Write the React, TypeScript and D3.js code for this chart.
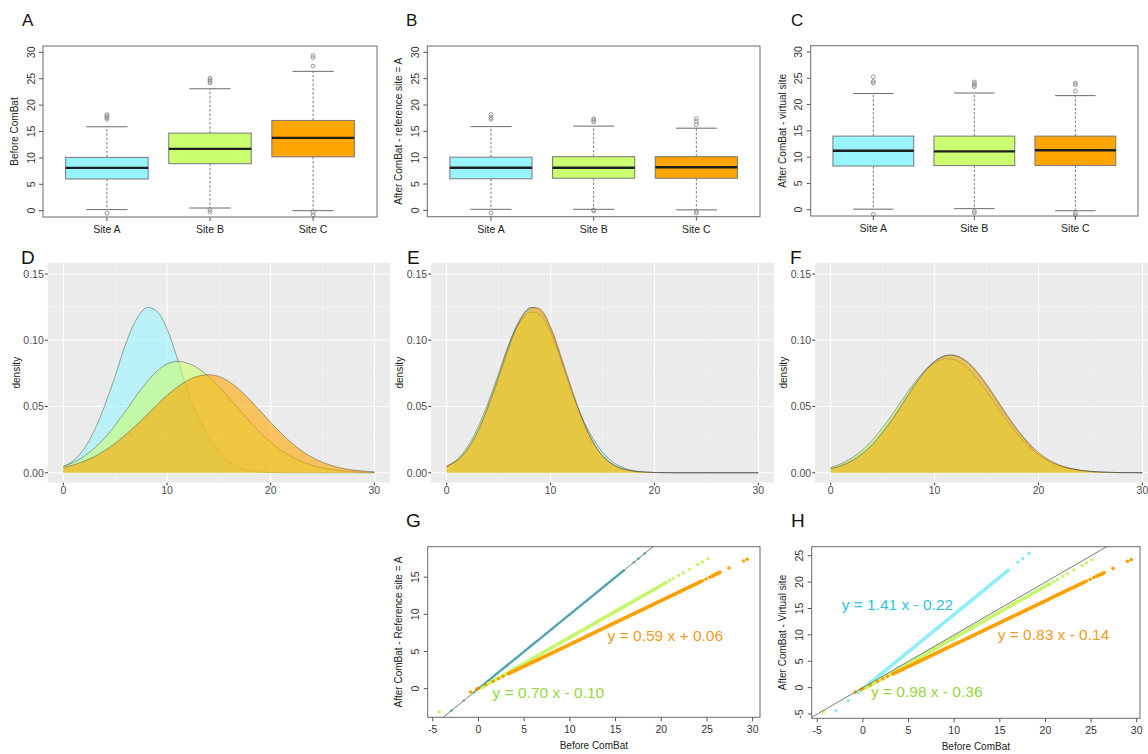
import React from "react";
import * as d3 from "d3";

// ---------- shared ----------
const sites = ["Site A", "Site B", "Site C"];
const siteFill = ["#98F5FF", "#CAFF70", "#FFA500"];
const boxTicks = [0, 5, 10, 15, 20, 25, 30];

// ---------- Panel A: before ComBat ----------
const beforeQ1 = [6.0, 8.9, 10.2];
const beforeMedian = [8.1, 11.7, 13.8];
const beforeQ3 = [10.1, 14.7, 17.1];
const beforeWhiskerLow = [0.2, 0.5, 0.0];
const beforeWhiskerHigh = [15.9, 23.1, 26.4];
const beforeOutliers = [
  [-0.5, 17.3, 17.6, 17.9, 18.2],
  [-0.2, 0.2, 24.2, 24.5, 24.8, 25.1],
  [-0.8, -0.3, 27.4, 29.0, 29.4],
];

// ---------- Panel B: after ComBat, reference site = A ----------
const refQ1 = [6.0, 6.1, 6.1];
const refMedian = [8.1, 8.1, 8.2];
const refQ3 = [10.1, 10.2, 10.2];
const refWhiskerLow = [0.2, 0.2, 0.1];
const refWhiskerHigh = [15.9, 16.0, 15.6];
const refOutliers = [
  [-0.5, 17.3, 17.6, 18.2],
  [-0.1, 0.1, 16.8, 17.1, 17.4],
  [-0.5, -0.2, 16.3, 16.9, 17.4],
];

// ---------- Panel C: after ComBat, virtual site ----------
const virtQ1 = [8.3, 8.4, 8.4];
const virtMedian = [11.2, 11.1, 11.3];
const virtQ3 = [14.0, 14.0, 14.0];
const virtWhiskerLow = [0.1, 0.2, -0.2];
const virtWhiskerHigh = [22.1, 22.2, 21.7];
const virtOutliers = [
  [-0.9, 24.1, 24.4, 25.3],
  [-0.6, -0.3, 23.4, 23.7, 24.0, 24.3],
  [-1.0, -0.6, 22.6, 23.8, 24.1],
];

// ---------- Density panels ----------
const densX = [0, 1, 2, 3, 4, 5, 6, 7, 8, 9, 10, 11, 12, 13, 14, 15, 16, 17, 18, 19, 20, 21, 22, 23, 24, 25, 26, 27, 28, 29, 30];
const densTicksX = [0, 10, 20, 30];
const densTicksY = [0, 0.05, 0.1, 0.15];

const densBeforeA = [0.0043, 0.0093, 0.018, 0.032, 0.051, 0.073, 0.097, 0.115, 0.1245, 0.122, 0.1085, 0.086, 0.062, 0.042, 0.027, 0.0155, 0.008, 0.0038, 0.0016, 0.0006, 0.0002, 0.0001, 0, 0, 0, 0, 0, 0, 0, 0, 0];
const densBeforeB = [0.0048, 0.0079, 0.0124, 0.0185, 0.0264, 0.0359, 0.0465, 0.0576, 0.0679, 0.0764, 0.0821, 0.084, 0.0827, 0.0788, 0.0728, 0.0651, 0.0564, 0.0473, 0.0385, 0.0303, 0.0231, 0.017, 0.0122, 0.0085, 0.0057, 0.0037, 0.0023, 0.0014, 0.0008, 0.0004, 0.0002];
const densBeforeC = [0.004, 0.006, 0.0087, 0.0122, 0.0167, 0.0222, 0.0286, 0.0357, 0.0433, 0.051, 0.0583, 0.0647, 0.0697, 0.0729, 0.074, 0.0727, 0.0687, 0.0627, 0.055, 0.0466, 0.038, 0.0299, 0.0227, 0.0165, 0.0116, 0.0079, 0.0052, 0.0032, 0.002, 0.0012, 0.0007];

const densRefA = [0.0043, 0.0093, 0.018, 0.032, 0.051, 0.073, 0.097, 0.115, 0.1245, 0.122, 0.1085, 0.086, 0.062, 0.042, 0.027, 0.0155, 0.008, 0.0038, 0.0016, 0.0006, 0.0002, 0.0001, 0, 0, 0, 0, 0, 0, 0, 0, 0];
const densRefB = [0.005, 0.01, 0.0195, 0.034, 0.053, 0.075, 0.097, 0.113, 0.121, 0.119, 0.106, 0.085, 0.062, 0.041, 0.024, 0.0125, 0.006, 0.0027, 0.0012, 0.0005, 0.0002, 0.0001, 0, 0, 0, 0, 0, 0, 0, 0, 0];
const densRefC = [0.0048, 0.0092, 0.0175, 0.031, 0.05, 0.072, 0.095, 0.114, 0.124, 0.1235, 0.11, 0.088, 0.064, 0.042, 0.0245, 0.013, 0.0063, 0.0028, 0.0012, 0.0005, 0.0002, 0.0001, 0, 0, 0, 0, 0, 0, 0, 0, 0];

const densVirtA = [0.0034, 0.0058, 0.0096, 0.015, 0.0222, 0.0314, 0.0422, 0.054, 0.0658, 0.0763, 0.0842, 0.0884, 0.0884, 0.0842, 0.0763, 0.0658, 0.054, 0.0422, 0.0314, 0.0222, 0.013, 0.0085, 0.0053, 0.0034, 0.0019, 0.001, 0.0005, 0.0003, 0.0001, 0.0001, 0];
const densVirtB = [0.004, 0.0068, 0.011, 0.0168, 0.0245, 0.034, 0.0448, 0.0563, 0.0672, 0.0765, 0.083, 0.086, 0.085, 0.08, 0.0718, 0.0615, 0.0502, 0.039, 0.029, 0.0205, 0.0138, 0.0088, 0.0053, 0.0031, 0.0017, 0.0009, 0.0005, 0.0002, 0.0001, 0.0001, 0];
const densVirtC = [0.003, 0.0052, 0.0088, 0.014, 0.0212, 0.0304, 0.0412, 0.053, 0.065, 0.0757, 0.0838, 0.0881, 0.0884, 0.0846, 0.077, 0.0667, 0.055, 0.0432, 0.0322, 0.0228, 0.0152, 0.0097, 0.0059, 0.0034, 0.0019, 0.001, 0.0005, 0.0003, 0.0001, 0.0001, 0];

// ---------- Scatter panels (before vs after) ----------
const scatterTicksX = [-5, 0, 5, 10, 15, 20, 25, 30];
const scatterTicksYG = [0, 5, 10, 15];
const scatterTicksYH = [-5, 0, 5, 10, 15, 20, 25];

const siteABefore = [-2.95, -1.6, -0.5, 0.2, 1, 2, 4, 6, 8, 10, 12, 14, 15.9, 17.0, 17.5, 18.2];
const siteAAfterRef = [-2.95, -1.6, -0.5, 0.2, 1, 2, 4, 6, 8, 10, 12, 14, 15.9, 17.0, 17.5, 18.2];
const siteAAfterVirt = [-4.38, -2.48, -0.93, 0.06, 1.19, 2.6, 5.42, 8.24, 11.06, 13.88, 16.7, 19.52, 22.2, 23.75, 24.46, 25.44];
const siteACore = [[0.2, 15.9]];

const siteBBefore = [-4.3, -0.2, 0.3, 0.5, 2, 4, 6, 8, 10, 12, 14, 16, 18, 20.5, 20.9, 21.3, 21.9, 22.4, 23.1, 24.0, 24.5, 25.1];
const siteBAfterRef = [-3.11, -0.24, 0.11, 0.25, 1.3, 2.7, 4.1, 5.5, 6.9, 8.3, 9.7, 11.1, 12.5, 14.25, 14.53, 14.81, 15.23, 15.58, 16.07, 16.7, 17.05, 17.47];
const siteBAfterVirt = [-4.57, -0.56, -0.07, 0.13, 1.6, 3.56, 5.52, 7.48, 9.44, 11.4, 13.36, 15.32, 17.28, 19.73, 20.12, 20.51, 21.1, 21.59, 22.28, 23.16, 23.65, 24.24];
const siteBCore = [[0.5, 20.5]];

const siteCBefore = [-0.85, -0.2, 0.0, 0.8, 1.6, 2.2, 2.7, 3.3, 6, 9, 12, 15, 18, 21, 24.2, 24.5, 24.9, 25.3, 25.6, 26.0, 26.4, 27.4, 29.0, 29.4];
const siteCAfterRef = [-0.44, -0.06, 0.06, 0.53, 1.0, 1.36, 1.65, 2.01, 3.6, 5.37, 7.14, 8.91, 10.68, 12.45, 14.34, 14.52, 14.75, 14.99, 15.16, 15.4, 15.64, 16.23, 17.17, 17.41];
const siteCAfterVirt = [-0.85, -0.31, -0.14, 0.52, 1.19, 1.69, 2.1, 2.6, 4.84, 7.33, 9.82, 12.31, 14.8, 17.29, 19.95, 20.2, 20.53, 20.86, 21.11, 21.44, 21.77, 22.6, 23.93, 24.26];
const siteCCore = [[3.3, 24.2], [25.6, 26.4]];

const eqRef = ["y = 0.70 x - 0.10", "y = 0.59 x + 0.06"];
const eqVirt = ["y = 1.41 x - 0.22", "y = 0.98 x - 0.36", "y = 0.83 x - 0.14"];

const FONT = "'Liberation Sans', Arial, Helvetica, sans-serif";

// ---------- components ----------
function PanelLetter({ x, y, size, text }) {
  return (
    <text x={x} y={y} fontSize={size} fill="#111" fontFamily={FONT}>
      {text}
    </text>
  );
}

function BoxPanel({ l, t, r, b, q1, med, q3, wlo, whi, outs, yTitle }) {
  const x = d3.scaleLinear().domain([0.38, 3.62]).range([l, r]);
  const y = d3.scaleLinear().domain([-1.2, 31.2]).range([b, t]);
  const hw = x(1.4) - x(1);
  return (
    <g>
      {sites.map((s, i) => {
        const cx = x(i + 1);
        return (
          <g key={s}>
            <line x1={cx} x2={cx} y1={y(q3[i])} y2={y(whi[i])} stroke="#7a7a7a" strokeDasharray="2.5,1.8" />
            <line x1={cx} x2={cx} y1={y(q1[i])} y2={y(wlo[i])} stroke="#7a7a7a" strokeDasharray="2.5,1.8" />
            <line x1={cx - hw / 2} x2={cx + hw / 2} y1={y(whi[i])} y2={y(whi[i])} stroke="#6a6a6a" />
            <line x1={cx - hw / 2} x2={cx + hw / 2} y1={y(wlo[i])} y2={y(wlo[i])} stroke="#6a6a6a" />
            <rect x={cx - hw} width={2 * hw} y={y(q3[i])} height={y(q1[i]) - y(q3[i])} fill={siteFill[i]} stroke="#777" strokeWidth={1} />
            <line x1={cx - hw} x2={cx + hw} y1={y(med[i])} y2={y(med[i])} stroke="#1e1e1e" strokeWidth={2.4} />
            {outs[i].map((o, j) => (
              <circle key={j} cx={cx} cy={y(o)} r={1.9} fill="none" stroke="#8a8a8a" strokeWidth={0.9} />
            ))}
            <line x1={cx} x2={cx} y1={b} y2={b + 4} stroke="#555" />
            <text x={cx} y={b + 16} textAnchor="middle" fontSize={10.5} fill="#222" fontFamily={FONT}>{s}</text>
          </g>
        );
      })}
      <rect x={l} y={t} width={r - l} height={b - t} fill="none" stroke="#6a6a6a" strokeWidth={1} />
      {boxTicks.map((v) => (
        <g key={v}>
          <line x1={l - 4} x2={l} y1={y(v)} y2={y(v)} stroke="#555" />
          <text transform={`translate(${l - 8.5},${y(v)}) rotate(-90)`} textAnchor="middle" fontSize={10.5} fill="#333" fontFamily={FONT}>{v}</text>
        </g>
      ))}
      <text transform={`translate(${l - 25},${(t + b) / 2}) rotate(-90)`} textAnchor="middle" fontSize={10} fill="#222" fontFamily={FONT}>{yTitle}</text>
    </g>
  );
}

function DensityPanel({ l, r, t, b, series, clipId }) {
  const x = d3.scaleLinear().domain([-1.5, 31.5]).range([l, r]);
  const y = d3.scaleLinear().domain([-0.0075, 0.1585]).range([b, t]);
  const area = d3.area().x((d) => x(d[0])).y0(y(0)).y1((d) => y(Math.max(0, d[1]))).curve(d3.curveCatmullRom.alpha(0.5));
  const line = d3.line().x((d) => x(d[0])).y((d) => y(Math.max(0, d[1]))).curve(d3.curveCatmullRom.alpha(0.5));
  const minorX = [5, 15, 25];
  const minorY = [0.025, 0.075, 0.125];
  const right = Math.min(r, 1148);
  return (
    <g>
      <defs>
        <clipPath id={clipId}>
          <rect x={l} y={t} width={right - l} height={b - t} />
        </clipPath>
      </defs>
      <rect x={l} y={t} width={right - l} height={b - t} fill="#EBEBEB" />
      {minorX.map((v) => <line key={"mx" + v} x1={x(v)} x2={x(v)} y1={t} y2={b} stroke="#F5F5F5" strokeWidth={0.6} />)}
      {minorY.map((v) => <line key={"my" + v} x1={l} x2={right} y1={y(v)} y2={y(v)} stroke="#F5F5F5" strokeWidth={0.6} />)}
      {densTicksX.map((v) => <line key={"gx" + v} x1={x(v)} x2={x(v)} y1={t} y2={b} stroke="#fff" strokeWidth={1.1} />)}
      {densTicksY.map((v) => <line key={"gy" + v} x1={l} x2={right} y1={y(v)} y2={y(v)} stroke="#fff" strokeWidth={1.1} />)}
      <g clipPath={`url(#${clipId})`}>
        {series.map((vals, i) => {
          const pts = densX.map((xx, k) => [xx, vals[k]]);
          return (
            <g key={i}>
              <path d={area(pts)} fill={siteFill[i]} fillOpacity={0.6} />
              <path d={line(pts)} fill="none" stroke="#333" strokeOpacity={0.6} strokeWidth={0.7} />
            </g>
          );
        })}
      </g>
      {densTicksX.map((v) => (
        <g key={"tx" + v}>
          <line x1={x(v)} x2={x(v)} y1={b} y2={b + 2.7} stroke="#333" />
          <text x={x(v)} y={b + 11} textAnchor="middle" fontSize={10.5} fill="#4D4D4D" fontFamily={FONT}>{v}</text>
        </g>
      ))}
      {densTicksY.map((v) => (
        <g key={"ty" + v}>
          <line x1={l - 2.7} x2={l} y1={y(v)} y2={y(v)} stroke="#333" />
          <text x={l - 4} y={y(v) + 3.8} textAnchor="end" fontSize={10.5} fill="#4D4D4D" fontFamily={FONT}>{v.toFixed(2)}</text>
        </g>
      ))}
      <text transform={`translate(${l - 28},${(t + b) / 2}) rotate(-90)`} textAnchor="middle" fontSize={10} fill="#222" fontFamily={FONT}>density</text>
    </g>
  );
}

function ScatterPanel({ l, r, t, b, xd, yd, yTicks, yTitle, series, eqs, clipId }) {
  const x = d3.scaleLinear().domain(xd).range([l, r]);
  const y = d3.scaleLinear().domain(yd).range([b, t]);
  const line = d3.line().x((d) => x(d[0])).y((d) => y(d[1]));
  return (
    <g>
      <defs>
        <clipPath id={clipId}>
          <rect x={l} y={t} width={r - l} height={b - t} />
        </clipPath>
      </defs>
      <g clipPath={`url(#${clipId})`}>
        {series.map((s, i) => {
          const pts = s.xs.map((xx, k) => [xx, s.ys[k]]);
          return (
            <g key={i}>
              {s.core.map((c, j) => {
                const seg = pts.filter((p) => p[0] >= c[0] && p[0] <= c[1]);
                return <path key={j} d={line(seg)} fill="none" stroke={s.color} strokeWidth={s.width} strokeLinecap="round" />;
              })}
              {pts.map((p, k) => (
                <circle key={k} cx={x(p[0])} cy={y(p[1])} r={s.width / 2} fill={s.color} />
              ))}
            </g>
          );
        })}
        <line x1={x(-6)} y1={y(-6)} x2={x(31)} y2={y(31)} stroke="#7a7a7a" strokeWidth={1} />
      </g>
      <rect x={l} y={t} width={r - l} height={b - t} fill="none" stroke="#6a6a6a" strokeWidth={1} />
      {scatterTicksX.map((v) => (
        <g key={"x" + v}>
          <line x1={x(v)} x2={x(v)} y1={b} y2={b + 4} stroke="#555" />
          <text x={x(v)} y={b + 16} textAnchor="middle" fontSize={10.5} fill="#333" fontFamily={FONT}>{v}</text>
        </g>
      ))}
      {yTicks.map((v) => (
        <g key={"y" + v}>
          <line x1={l - 4} x2={l} y1={y(v)} y2={y(v)} stroke="#555" />
          <text transform={`translate(${l - 8.5},${y(v)}) rotate(-90)`} textAnchor="middle" fontSize={10.5} fill="#333" fontFamily={FONT}>{v}</text>
        </g>
      ))}
      <text x={(l + r) / 2} y={b + 32} textAnchor="middle" fontSize={10} fill="#222" fontFamily={FONT}>Before ComBat</text>
      <text transform={`translate(${l - 26},${(t + b) / 2}) rotate(-90)`} textAnchor="middle" fontSize={10} fill="#222" fontFamily={FONT}>{yTitle}</text>
      {eqs.map((e, i) => (
        <text key={i} x={x(e.at[0])} y={y(e.at[1])} fontSize={15.5} fill={e.color} fontFamily={FONT}>{e.text}</text>
      ))}
    </g>
  );
}

export default function App() {
  return (
    <svg width={1148} height={754} style={{ position: "absolute", left: 0, top: 0, background: "#fff" }} fontFamily={FONT}>
      <rect x={0} y={0} width={1148} height={754} fill="#fff" />

      <BoxPanel l={43} t={46} r={377} b={217} q1={beforeQ1} med={beforeMedian} q3={beforeQ3} wlo={beforeWhiskerLow} whi={beforeWhiskerHigh} outs={beforeOutliers} yTitle="Before ComBat" />
      <BoxPanel l={427.3} t={46} r={760} b={216.7} q1={refQ1} med={refMedian} q3={refQ3} wlo={refWhiskerLow} whi={refWhiskerHigh} outs={refOutliers} yTitle="After ComBat - reference site = A" />
      <BoxPanel l={810.7} t={45.7} r={1138} b={216} q1={virtQ1} med={virtMedian} q3={virtQ3} wlo={virtWhiskerLow} whi={virtWhiskerHigh} outs={virtOutliers} yTitle="After ComBat - virtual site" />

      <DensityPanel l={47.8} r={389.9} t={262.7} b={482.7} series={[densBeforeA, densBeforeB, densBeforeC]} clipId="clipD" />
      <DensityPanel l={431.1} r={773.9} t={262.7} b={482.7} series={[densRefA, densRefB, densRefC]} clipId="clipE" />
      <DensityPanel l={815.1} r={1158} t={262.7} b={482.7} series={[densVirtA, densVirtB, densVirtC]} clipId="clipF" />

      <ScatterPanel
        l={427.7} r={760} t={546.7} b={717.3}
        xd={[-5.55, 30.8]} yd={[-3.85, 19.1]}
        yTicks={scatterTicksYG}
        yTitle="After ComBat - Reference site = A"
        clipId="clipG"
        series={[
          { xs: siteABefore, ys: siteAAfterRef, core: siteACore, color: "#52C0CF", width: 2.6 },
          { xs: siteBBefore, ys: siteBAfterRef, core: siteBCore, color: "#C6F76B", width: 3.6 },
          { xs: siteCBefore, ys: siteCAfterRef, core: siteCCore, color: "#FFA000", width: 3.6 },
        ]}
        eqs={[
          { text: eqRef[0], at: [1.55, -1.2], color: "#93D83B" },
          { text: eqRef[1], at: [14.13, 6.35], color: "#EE9B22" },
        ]}
      />
      <ScatterPanel
        l={811.7} r={1140} t={546.7} b={718.3}
        xd={[-5.61, 30.36]} yd={[-5.81, 26.71]}
        yTicks={scatterTicksYH}
        yTitle="After ComBat - Virtual site"
        clipId="clipH"
        series={[
          { xs: siteABefore, ys: siteAAfterVirt, core: siteACore, color: "#90EEFB", width: 3.6 },
          { xs: siteBBefore, ys: siteBAfterVirt, core: siteBCore, color: "#C6F76B", width: 3.6 },
          { xs: siteCBefore, ys: siteCAfterVirt, core: siteCCore, color: "#FFA000", width: 3.6 },
        ]}
        eqs={[
          { text: eqVirt[0], at: [-2.33, 14.7], color: "#2DC3DA" },
          { text: eqVirt[1], at: [0.88, -1.84], color: "#93D83B" },
          { text: eqVirt[2], at: [14.77, 9.03], color: "#EE9B22" },
        ]}
      />

      <PanelLetter x={22} y={26} size={17} text="A" />
      <PanelLetter x={406} y={26} size={17} text="B" />
      <PanelLetter x={791} y={26} size={17} text="C" />
      <PanelLetter x={21} y={264} size={19} text="D" />
      <PanelLetter x={407} y={264} size={19} text="E" />
      <PanelLetter x={790} y={264} size={19} text="F" />
      <PanelLetter x={406} y={527} size={19} text="G" />
      <PanelLetter x={791} y={527} size={19} text="H" />
    </svg>
  );
}
